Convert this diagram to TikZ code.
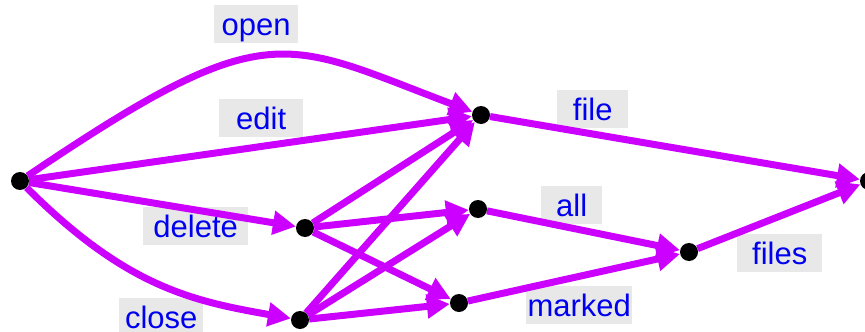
\documentclass[tikz,border=0pt]{standalone}
\usepackage{fontspec}
\setmainfont{Liberation Sans}
\usetikzlibrary{arrows.meta}
\definecolor{edgec}{RGB}{204,0,255}
\definecolor{labc}{RGB}{0,0,240}
\definecolor{boxc}{RGB}{232,232,232}
\begin{document}
\begin{tikzpicture}[x=1pt,y=-1pt,
  dot/.style={circle,inner sep=0pt,minimum size=18pt},
  lab/.style={fill=boxc,text=labc,font=\fontsize{31}{31}\selectfont,inner sep=0pt,
              text height=30pt,text depth=8pt,anchor=north west},
  edge/.style={draw=edgec,line width=7pt,-{Triangle[length=23pt,width=23pt]}}]
\useasboundingbox (0,0) rectangle (865,332);
% labels
\node[lab,minimum width=84pt]  (lopen)   at (214,5)   {open};
\node[lab,minimum width=84pt]  (ledit)   at (219,99)  {edit};
\node[lab,minimum width=84pt]  (lclose)  at (119,298) {close};
\node[lab,minimum width=105pt] (ldelete) at (143,207) {delete};
\node[lab,minimum width=71pt]  (lfile)   at (557,90)  {file};
\node[lab,minimum width=61pt]  (lall)    at (541,186) {all};
\node[lab,minimum width=85pt]  (lfiles)  at (737,234) {files};
\node[lab,minimum width=106pt] (lmarked) at (526,286) {marked};
% states
\node[dot] (S) at (20,181) {};
\node[dot] (A) at (481,115) {};
\node[dot] (B) at (305,228) {};
\node[dot] (C) at (300,320) {};
\node[dot] (D) at (478,209) {};
\node[dot] (E) at (459,303) {};
\node[dot] (F) at (689,252) {};
\node[dot] (G) at (869,181) {};
% transitions
\draw[edge] (S) .. controls (269,13) and (282,40) .. (A);
\draw[edge] (S) -- (A);
\draw[edge] (S) -- (B);
\draw[edge] (S) .. controls (126,287) and (192,301) .. (C);
\draw[edge] (B) -- (A);
\draw[edge] (B) -- (D);
\draw[edge] (B) -- (E);
\draw[edge] (C) -- (A);
\draw[edge] (C) -- (D);
\draw[edge] (C) -- (E);
\draw[edge] (A) -- (G);
\draw[edge] (D) -- (F);
\draw[edge] (E) -- (F);
\draw[edge] (F) -- (G);
% dots on top
\foreach \n in {S,A,B,C,D,E,F,G}
  \fill[black] (\n.center) circle[radius=9pt];
\end{tikzpicture}
\end{document}
